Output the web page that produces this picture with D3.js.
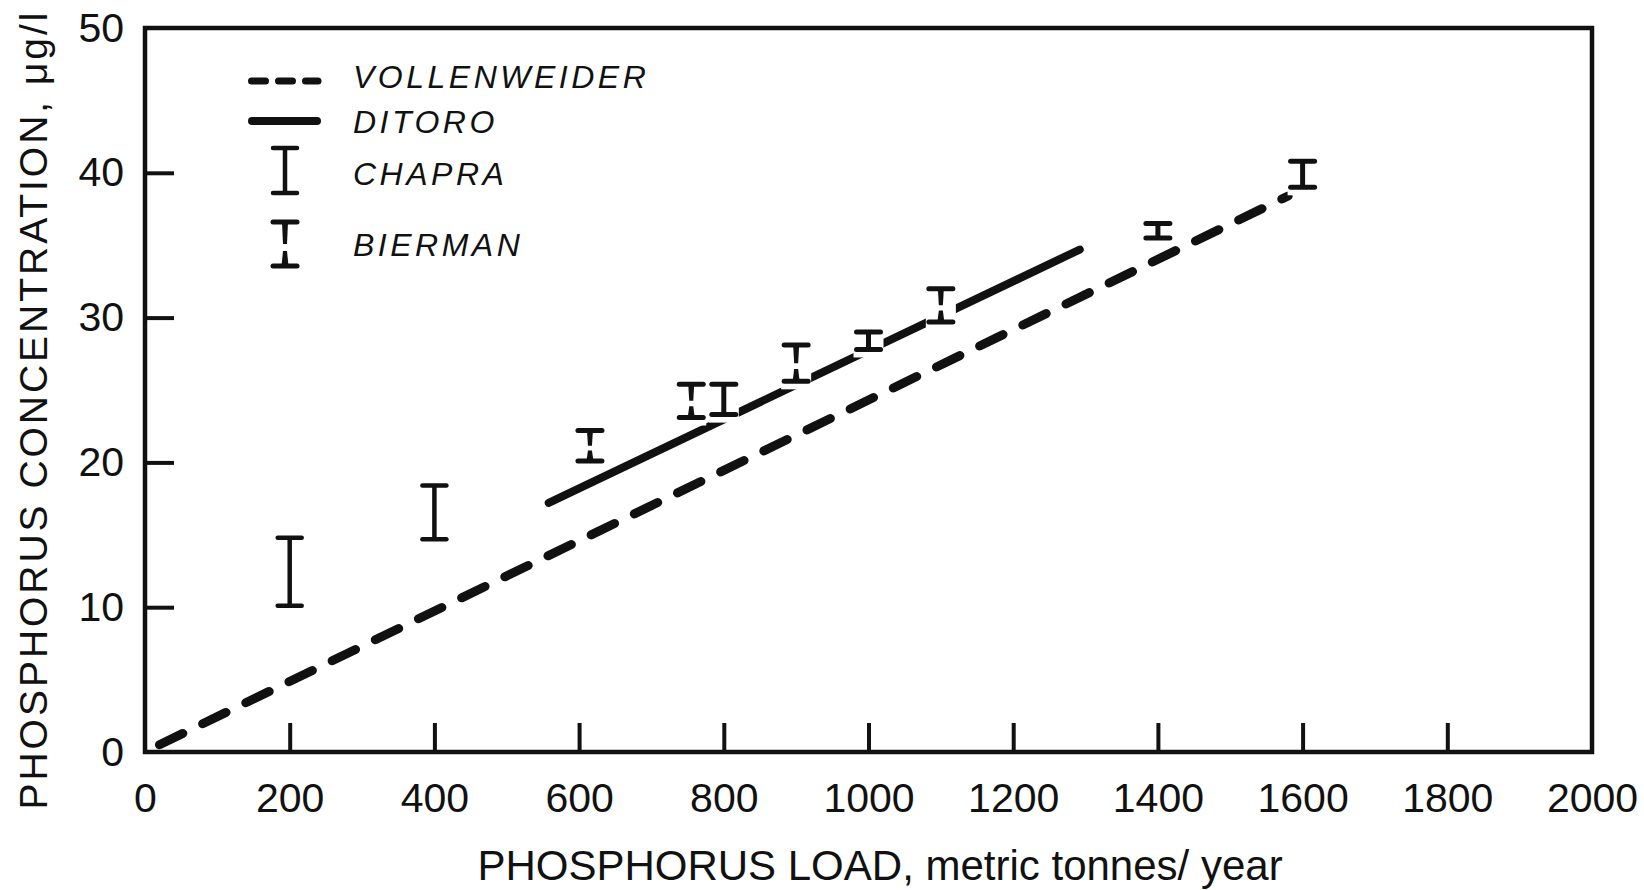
<!DOCTYPE html>
<html>
<head>
<meta charset="utf-8">
<script src="https://cdn.jsdelivr.net/npm/d3@7/dist/d3.min.js"></script>
<style>
  html, body { margin: 0; padding: 0; background: #fff; }
  svg { display: block; }
  text { font-family: "Liberation Sans", Arial, Helvetica, sans-serif; fill: #111; }
</style>
</head>
<body>
<svg id="chart" width="1644" height="890"></svg>
<script>
// Phosphorus load vs. in-lake concentration: model lines and error bars
const loadTicks = [0, 200, 400, 600, 800, 1000, 1200, 1400, 1600, 1800, 2000];
const concTicks = [0, 10, 20, 30, 40, 50];

const vollenweiderLoad = [20, 1580];
const vollenweiderConc = [0.5, 38.4];

const ditoroLoad = [558, 1292];
const ditoroConc = [17.2, 34.7];

const chapraLoad = [200, 400, 800, 1000, 1400, 1600];
const chapraLow  = [10.1, 14.7, 23.3, 27.8, 35.5, 39.0];
const chapraHigh = [14.8, 18.4, 25.4, 29.0, 36.5, 40.8];

const biermanLoad = [615, 755, 900, 1100];
const biermanLow  = [20.1, 23.1, 25.6, 29.7];
const biermanHigh = [22.2, 25.4, 28.1, 32.0];

const legendLabels = ["VOLLENWEIDER", "DITORO", "CHAPRA", "BIERMAN"];

const xTitle = "PHOSPHORUS LOAD, metric tonnes/ year";
const yTitle = "PHOSPHORUS CONCENTRATION, \u03bcg/l";

const ink = "#111";
const svg = d3.select("#chart");

const x = d3.scaleLinear().domain([0, 2000]).range([145, 1592]);
const y = d3.scaleLinear().domain([0, 50]).range([752, 28]);

// frame
svg.append("rect")
  .attr("x", x(0)).attr("y", y(50))
  .attr("width", x(2000) - x(0)).attr("height", y(0) - y(50))
  .attr("fill", "none").attr("stroke", ink).attr("stroke-width", 4.5);

// axes with inward ticks
const xAxis = svg.append("g")
  .attr("transform", `translate(0,${y(0)})`)
  .call(d3.axisBottom(x).tickValues(loadTicks).tickSize(-29).tickPadding(31).tickFormat(d3.format("d")));
const yAxis = svg.append("g")
  .attr("transform", `translate(${x(0)},0)`)
  .call(d3.axisLeft(y).tickValues(concTicks).tickSize(-29).tickPadding(21).tickFormat(d3.format("d")));

[xAxis, yAxis].forEach(a => {
  a.select(".domain").remove();
  a.selectAll(".tick line").attr("stroke", ink).attr("stroke-width", 4);
  a.selectAll(".tick text").attr("fill", ink).style("font-size", "41px")
    .style("font-family", "'Liberation Sans', Arial, sans-serif");
});
xAxis.selectAll(".tick").filter(d => d === 0 || d === 2000).select("line").remove();
yAxis.selectAll(".tick").filter(d => d === 0 || d === 50).select("line").remove();

// axis titles
svg.append("text")
  .attr("x", 880).attr("y", 880)
  .attr("text-anchor", "middle")
  .style("font-size", "42px")
  .text(xTitle);

svg.append("text")
  .attr("transform", "translate(47,411) rotate(-90)")
  .attr("text-anchor", "middle")
  .attr("textLength", 797)
  .attr("lengthAdjust", "spacing")
  .style("font-size", "39px")
  .text(yTitle);

// model lines
const line = d3.line().x(d => x(d[0])).y(d => y(d[1]));

svg.append("path")
  .datum(d3.zip(vollenweiderLoad, vollenweiderConc))
  .attr("d", line)
  .attr("fill", "none").attr("stroke", ink)
  .attr("stroke-width", 9).attr("stroke-linecap", "round")
  .attr("stroke-dasharray", "26 22");

svg.append("path")
  .datum(d3.zip(ditoroLoad, ditoroConc))
  .attr("d", line)
  .attr("fill", "none").attr("stroke", ink)
  .attr("stroke-width", 8).attr("stroke-linecap", "round");

// error bars: plain I-bars and broken-stem I-bars
const capHalf = 12;

function knockout(g, cx, yTop, yBot) {
  g.append("rect")
    .attr("x", cx - capHalf - 3).attr("y", yTop - 4)
    .attr("width", 2 * capHalf + 6).attr("height", yBot - yTop + 12)
    .attr("fill", "#fff");
}

function plainBar(g, cx, yTop, yBot, w) {
  g.append("line").attr("x1", cx).attr("x2", cx).attr("y1", yTop).attr("y2", yBot)
    .attr("stroke", ink).attr("stroke-width", w);
  [yTop, yBot].forEach(yy => g.append("line")
    .attr("x1", cx - capHalf).attr("x2", cx + capHalf).attr("y1", yy).attr("y2", yy)
    .attr("stroke", ink).attr("stroke-width", w).attr("stroke-linecap", "round"));
}

function brokenBar(g, cx, yTop, yBot, w) {
  const mid = yTop + (yBot - yTop) * 0.58;
  const gap = Math.max(2, (yBot - yTop) * 0.08);
  g.append("path")
    .attr("d", `M${cx - 3},${yTop} L${cx + 3},${yTop} L${cx + 2},${mid - gap} L${cx - 2},${mid - gap} Z`)
    .attr("fill", ink);
  g.append("path")
    .attr("d", `M${cx - 2},${mid + gap} L${cx + 2},${mid + gap} L${cx + 3.5},${yBot} L${cx - 3.5},${yBot} Z`)
    .attr("fill", ink);
  [yTop, yBot].forEach(yy => g.append("line")
    .attr("x1", cx - capHalf).attr("x2", cx + capHalf).attr("y1", yy).attr("y2", yy)
    .attr("stroke", ink).attr("stroke-width", w).attr("stroke-linecap", "round"));
}

const bars = svg.append("g");
chapraLoad.forEach((l, i) => {
  const g = bars.append("g");
  if (l > 600) knockout(g, x(l), y(chapraHigh[i]), y(chapraLow[i]));
  plainBar(g, x(l), y(chapraHigh[i]), y(chapraLow[i]), l > 600 ? 5 : 4.5);
});
biermanLoad.forEach((l, i) => {
  const g = bars.append("g");
  knockout(g, x(l), y(biermanHigh[i]), y(biermanLow[i]));
  brokenBar(g, x(l), y(biermanHigh[i]), y(biermanLow[i]), 5);
});

// legend
const lg = svg.append("g");
const legendBase = [88, 133, 185, 256];
const symX0 = 248, symX1 = 321, symCx = 285;

lg.append("line")
  .attr("x1", symX0 + 3.5).attr("x2", symX1 - 3).attr("y1", 81).attr("y2", 81)
  .attr("stroke", ink).attr("stroke-width", 7).attr("stroke-linecap", "round")
  .attr("stroke-dasharray", "14 13");
lg.append("line")
  .attr("x1", symX0 + 4).attr("x2", symX1 - 4).attr("y1", 121).attr("y2", 121)
  .attr("stroke", ink).attr("stroke-width", 8).attr("stroke-linecap", "round");
plainBar(lg, symCx, 148, 193, 4.5);
brokenBar(lg, symCx, 222, 266, 5);

lg.selectAll("text.lbl")
  .data(legendLabels)
  .join("text")
  .attr("class", "lbl")
  .attr("x", 353)
  .attr("y", (d, i) => legendBase[i])
  .style("font-size", "32px")
  .style("font-style", "italic")
  .style("letter-spacing", "3.5px")
  .text(d => d);
</script>
</body>
</html>
